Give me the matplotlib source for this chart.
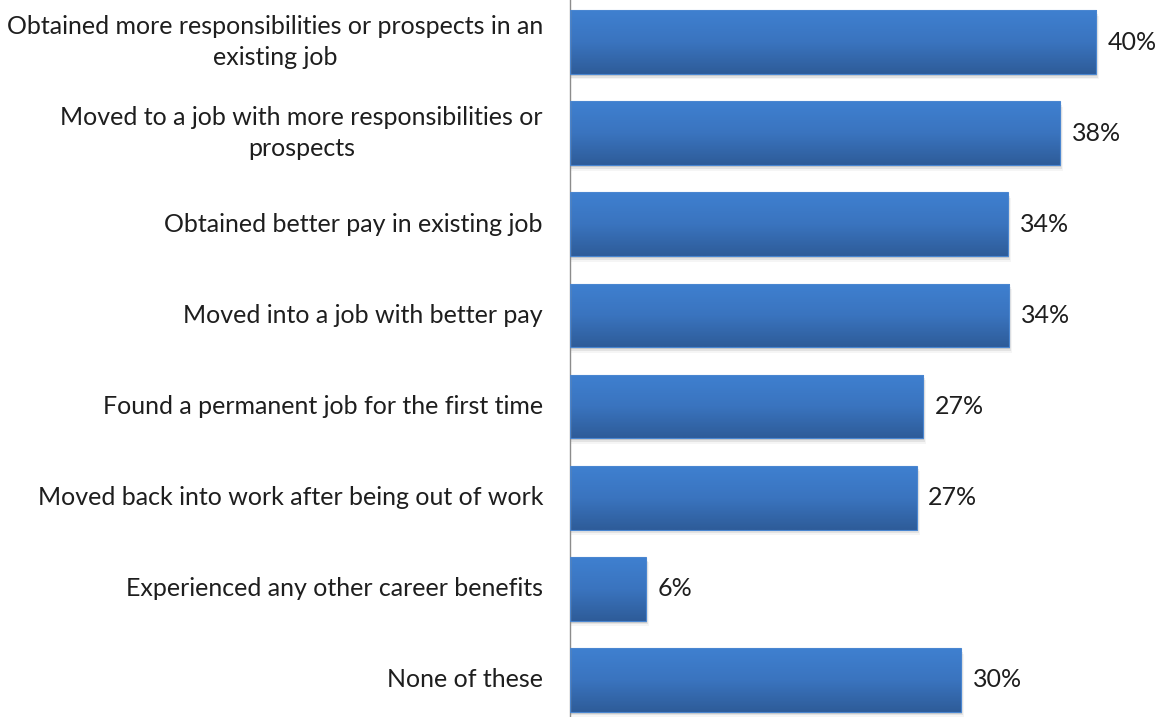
import numpy as np
import matplotlib.pyplot as plt
from matplotlib.patches import Rectangle
from matplotlib.colors import LinearSegmentedColormap

categories = [
    'Obtained more responsibilities or prospects in an\nexisting job',
    'Moved to a job with more responsibilities or\nprospects',
    'Obtained better pay in existing job',
    'Moved into a job with better pay',
    'Found a permanent job for the first time',
    'Moved back into work after being out of work',
    'Experienced any other career benefits',
    'None of these',
]
values = [40.4, 37.6, 33.6, 33.7, 27.1, 26.6, 5.8, 30.0]

plt.rcParams['font.family'] = ['Lato', 'DejaVu Sans']

fig = plt.figure(figsize=(11.68, 7.17), dpi=100)
ax = fig.add_axes([570 / 1168, -8.5 / 717, 598 / 1168, 729 / 717])

n = len(values)
ypos = np.arange(n)
bar_h = 0.70

# vertical gradient, light on top, darker at the bottom
cmap = LinearSegmentedColormap.from_list('bar', ['#3f80d0', '#3a74bf', '#2e5c99'])
grad = np.linspace(0, 1, 64).reshape(-1, 1)

for y, v in zip(ypos, values):
    # soft drop shadow
    for k, a in enumerate([0.10, 0.07, 0.04]):
        sh = Rectangle((0, y - bar_h / 2 + 0.02 * (k + 1)), v + 0.08 * (k + 1), bar_h,
                       facecolor='black', alpha=a, edgecolor='none', zorder=1)
        ax.add_patch(sh)
    rect = Rectangle((0, y - bar_h / 2), v, bar_h, facecolor='none',
                     edgecolor='#4a86d0', lw=0.8, zorder=3)
    ax.add_patch(rect)
    im = ax.imshow(grad, cmap=cmap, aspect='auto', zorder=2,
                   extent=(0, v, y + bar_h / 2, y - bar_h / 2))
    im.set_clip_path(rect)
    ax.text(v + 0.9, y, f'{v:.0f}%', va='center', ha='left',
            fontsize=18, color='#1e1e1e', zorder=4)

ax.set_xlim(0, 45.9)
ax.set_ylim(n - 0.5, -0.5)

for y, lab in zip(ypos, categories):
    fig.text(543 / 1168, 1 - (42 + 91.1 * y) / 717, lab, ha='right', va='center',
             multialignment='center', fontsize=18, color='#1e1e1e', linespacing=1.38)

for s in ['top', 'right', 'bottom']:
    ax.spines[s].set_visible(False)
ax.spines['left'].set_color('#8c8c8c')
ax.spines['left'].set_linewidth(1.0)
ax.set_xticks([])
ax.set_yticks([])
ax.patch.set_alpha(0)

fig.savefig('out.png', dpi=100)
